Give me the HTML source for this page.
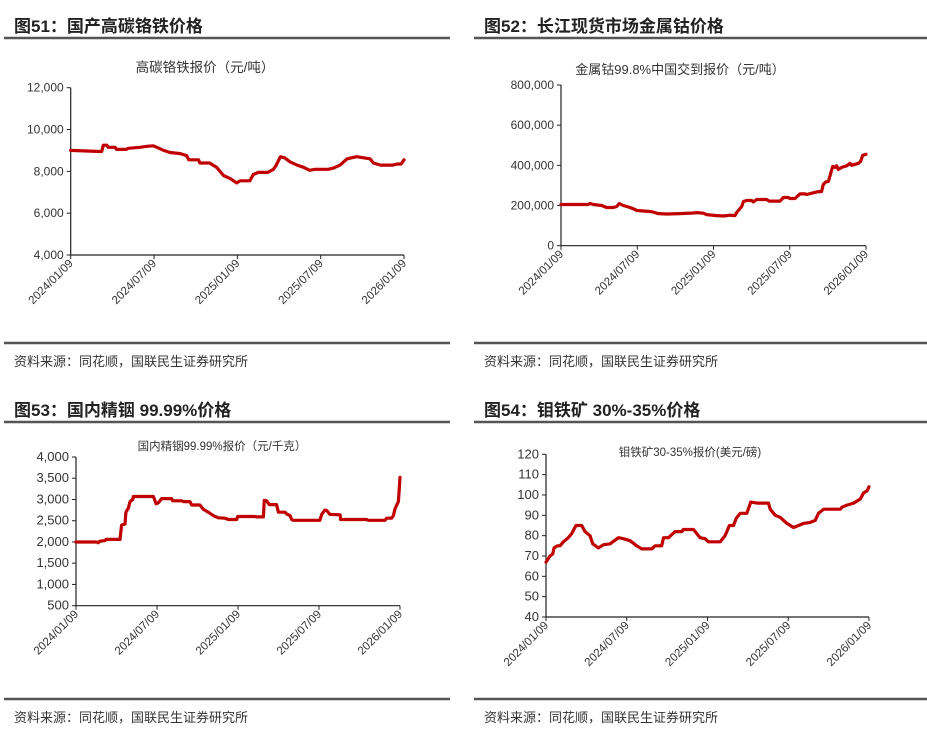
<!DOCTYPE html>
<html><head><meta charset="utf-8"><style>
html,body{margin:0;padding:0;background:#fff}
svg text{font-family:"Liberation Sans","Noto Sans CJK SC",sans-serif}
</style></head><body>
<svg id="s" width="927" height="729" viewBox="0 0 927 729" xmlns="http://www.w3.org/2000/svg">
<g fill="#222" font-weight="bold" font-size="17">
<text x="14" y="32">图51：国产高碳铬铁价格</text>
<text x="484" y="32">图52：长江现货市场金属钴价格</text>
<text x="14" y="416">图53：国内精铟 99.99%价格</text>
<text x="484" y="416">图54：钼铁矿 30%-35%价格</text>
</g>
<g stroke="#555" stroke-width="2.5">
<line x1="4" y1="38" x2="450" y2="38"/><line x1="474" y1="38" x2="927" y2="38"/>
<line x1="4" y1="343" x2="450" y2="343"/><line x1="474" y1="343" x2="927" y2="343"/>
<line x1="4" y1="422" x2="450" y2="422"/><line x1="474" y1="422" x2="927" y2="422"/>
<line x1="4" y1="699" x2="450" y2="699"/><line x1="474" y1="699" x2="927" y2="699"/>
</g>
<g fill="#333" font-size="13">
<text x="14" y="366">资料来源：同花顺，国联民生证券研究所</text>
<text x="484" y="366">资料来源：同花顺，国联民生证券研究所</text>
<text x="14" y="722">资料来源：同花顺，国联民生证券研究所</text>
<text x="484" y="722">资料来源：同花顺，国联民生证券研究所</text>
</g>
</svg>
<script>
const xTickLabels = ["2024/01/09","2024/07/09","2025/01/09","2025/07/09","2026/01/09"];
const xTickMonths = [0,6,12,18,24];

const c1Months = [0,2.1,2.23,2.35,2.6,2.7,3.2,3.3,4.0,4.15,5.0,5.5,5.95,6.2,6.7,7.15,7.9,8.35,8.5,9.2,9.3,10.0,10.5,11.0,11.5,11.95,12.2,12.9,13.15,13.5,14.2,14.6,14.8,15.1,15.4,15.8,16.3,16.75,17.2,17.6,18.55,18.9,19.4,19.9,20.6,21.1,21.55,21.8,22.3,23.2,23.5,23.8,24];
const c1Values = [9000,8950,8950,9250,9250,9150,9150,9050,9050,9100,9150,9200,9220,9150,9000,8900,8850,8750,8550,8550,8400,8400,8200,7800,7650,7450,7550,7550,7850,7950,7950,8100,8300,8700,8650,8450,8300,8200,8050,8100,8100,8150,8300,8600,8700,8650,8600,8400,8300,8300,8350,8350,8550];
const c1Ticks = [4000,6000,8000,10000,12000];

const c2Months = [0,2.15,2.28,2.54,3.2,3.59,4.12,4.38,4.59,4.9,5.43,5.82,5.95,7.13,7.66,8.31,9.36,10.41,10.68,11.2,11.46,12.25,12.77,13.3,13.69,13.82,14.22,14.35,14.61,15.0,15.13,15.4,16.18,16.39,17.23,17.5,17.89,18.02,18.41,18.81,19.2,19.33,20.12,20.51,20.64,20.85,21.04,21.38,21.56,21.69,21.82,22.09,22.48,22.74,22.87,23.4,23.58,23.74,24];
const c2Values = [205000,205000,210000,205000,200000,190000,190000,195000,210000,200000,190000,180000,175000,170000,160000,158000,160000,163000,165000,162000,155000,150000,148000,152000,150000,165000,195000,220000,225000,225000,218000,230000,230000,222000,222000,240000,240000,235000,235000,258000,258000,255000,268000,270000,305000,318000,320000,395000,390000,398000,380000,390000,398000,410000,400000,410000,420000,450000,455000];
const c2Ticks = [0,200000,400000,600000,800000];

const c3Months = [0,1.53,1.65,1.78,2.15,2.22,2.4,3.26,3.38,3.63,3.7,3.88,4.0,4.2,4.25,5.73,5.93,6.1,6.35,7.09,7.16,7.83,7.95,8.44,8.57,9.18,9.43,9.8,10.17,10.54,11.04,11.28,11.9,11.98,13.26,13.38,13.88,13.95,14.12,14.32,14.86,14.99,15.48,15.6,15.85,15.98,16.1,18.07,18.2,18.44,18.57,18.81,19.56,19.6,21.53,21.65,22.89,23.01,23.38,23.51,23.63,23.88,24];
const c3Values = [2000,2000,1980,2020,2030,2060,2060,2060,2400,2420,2700,2800,2950,3000,3070,3070,2900,2920,3020,3020,2970,2970,2950,2950,2870,2870,2770,2700,2620,2570,2560,2530,2530,2600,2600,2590,2590,2980,2970,2880,2880,2700,2700,2660,2620,2530,2510,2510,2650,2750,2740,2650,2640,2530,2530,2510,2510,2560,2560,2620,2780,2950,3520];
const c3Ticks = [500,1000,1500,2000,2500,3000,3500,4000];

const c4Months = [0,0.3,0.5,0.6,0.84,1.04,1.29,1.66,1.91,2.23,2.65,2.9,3.27,3.47,3.89,4.26,4.76,5.38,5.75,6.25,6.74,7.11,7.86,8.11,8.6,8.73,9.1,9.59,10.09,10.21,10.96,11.45,11.82,12.07,12.94,13.31,13.63,13.93,14.13,14.43,14.92,15.22,15.67,16.53,16.66,17.03,17.4,17.9,18.39,18.77,19.14,19.63,20.0,20.25,20.63,21.87,21.99,22.36,22.86,23.35,23.6,23.85,24];
const c4Values = [67,70,71,74,75,75,77,79,81,85,85,82,80,76,74,75.5,76,79,78.5,77.5,75,73.5,73.5,75,75,79,79,82,82,83,83,79,78.5,77,77,80,85,85,88.5,91,91,96.5,96,96,93,90,89,86,84,85,86,86.5,87.5,91,93,93,94,95,96,98,101,102,104];
const c4Ticks = [40,50,60,70,80,90,100,110,120];

const NS = "http://www.w3.org/2000/svg";
const svg = document.getElementById('s');
function mk(tag, attrs, parent){const e=document.createElementNS(NS,tag);for(const k in attrs)e.setAttribute(k,attrs[k]);parent.appendChild(e);return e;}
function fmt(v){return v.toLocaleString('en-US');}

function drawChart(id, cfg, months, values, ticks){
  const g = mk('g',{},svg);
  
  
  const x = m => cfg.x0 + (cfg.x1-cfg.x0)*m/24;
  const y = v => cfg.yb + (cfg.yt-cfg.yb)*(v-ticks[0])/(ticks[ticks.length-1]-ticks[0]);
  const t = mk('text',{x:cfg.tx,y:cfg.ty,'text-anchor':'middle','font-size':cfg.tfs,fill:'#333'},g);
  t.textContent = cfg.title;
  
  
  const ax = mk('path',{d:`M${cfg.x0},${cfg.yt} V${cfg.yb} H${cfg.x1}`,stroke:'#222','stroke-width':1.2,fill:'none'},g);
  
  
  ticks.forEach(v=>{
    const yy=y(v);
    mk('line',{x1:cfg.x0-4,y1:yy,x2:cfg.x0,y2:yy,stroke:'#222','stroke-width':1},g);
    const l=mk('text',{x:cfg.x0-7,y:yy+4,'text-anchor':'end','font-size':cfg.yfs,fill:'#333'},g);
    l.textContent=fmt(v);
    
    
  });
  xTickMonths.forEach((m,i)=>{
    const xx=x(m);
    mk('line',{x1:xx,y1:cfg.yb,x2:xx,y2:cfg.yb+4,stroke:'#222','stroke-width':1},g);
    const px=xx+3, py=cfg.yb+9;
    const l=mk('text',{x:px,y:py,'text-anchor':'end','font-size':11.5,fill:'#333',transform:`rotate(-45 ${px} ${py})`},g);
    l.textContent=xTickLabels[i];
    
    
  });
  const d = months.map((m,i)=>(i?'L':'M')+x(m).toFixed(1)+','+y(values[i]).toFixed(1)).join(' ');
  const p = mk('path',{d:d,stroke:'#c00000','stroke-width':3.2,fill:'none','stroke-linejoin':'round','stroke-linecap':'round'},g);
  
  
}

drawChart('chart-ferrochrome',{x0:70.7,x1:404,yt:87.7,yb:255,tx:205,ty:72,tfs:13.5,yfs:12,title:'高碳铬铁报价（元/吨）'},c1Months,c1Values,c1Ticks);
drawChart('chart-cobalt',{x0:561,x1:866,yt:85,yb:245.7,tx:680,ty:74,tfs:13,yfs:12,title:'金属钴99.8%中国交到报价（元/吨）'},c2Months,c2Values,c2Ticks);
drawChart('chart-indium',{x0:76,x1:400,yt:457,yb:605.7,tx:222,ty:450,tfs:11.5,yfs:13,title:'国内精铟99.99%报价（元/千克）'},c3Months,c3Values,c3Ticks);
drawChart('chart-molybdenum',{x0:546,x1:869,yt:454.3,yb:617,tx:690,ty:456,tfs:11.5,yfs:13,title:'钼铁矿30-35%报价(美元/磅)'},c4Months,c4Values,c4Ticks);
</script>
</body></html>
